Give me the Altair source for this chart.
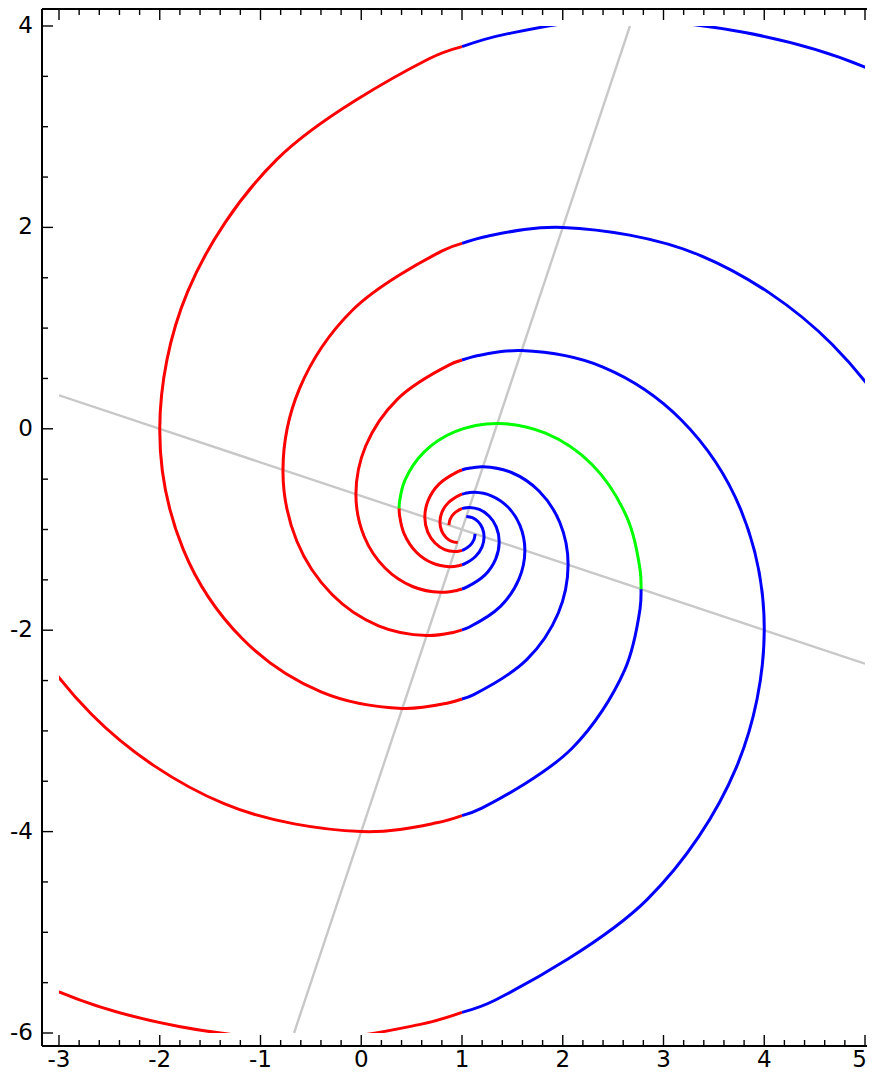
import altair as alt
import pandas as pd

# ---------------- layout (pixels) ----------------
W, H = 806, 1007            # plot area = data rectangle [-3,5] x [-6,4]
GAP_L, GAP_T, GAP_B = 17, 17, 13   # frame distance from data rectangle
RIGHT_EDGE = 2              # drawable strip right of the data rectangle
MAJ, MIN = 11, 6            # inward tick lengths

# ---------------- axis ticks / labels ----------------
X_MAJOR = [-3, -2, -1, 0, 1, 2, 3, 4]
X_LABELS = ["-3", "-2", "-1", "0", "1", "2", "3", "4"]
X_LAST = [5]
X_LAST_LABEL = ["5"]
X_MINOR = [-2.8, -2.6, -2.4, -2.2, -1.8, -1.6, -1.4, -1.2, -0.8, -0.6, -0.4, -0.2,
           0.2, 0.4, 0.6, 0.8, 1.2, 1.4, 1.6, 1.8, 2.2, 2.4, 2.6, 2.8,
           3.2, 3.4, 3.6, 3.8, 4.2, 4.4, 4.6, 4.8]
Y_MAJOR = [-6, -4, -2, 0, 2, 4]
Y_LABELS = ["-6", "-4", "-2", "0", "2", "4"]
Y_MINOR = [-5.5, -5, -4.5, -3.5, -3, -2.5, -1.5, -1, -0.5, 0.5, 1, 1.5, 2.5, 3, 3.5]

# ---------------- gray guide lines ----------------
GRAY1_X = [-0.667, 2.667]
GRAY1_Y = [-6.0, 4.0]
GRAY2_X = [-3.0, 5.0]
GRAY2_Y = [0.333, -2.333]

# ---------------- spiral arms (points read along each arm, outside -> centre) ----------------
ARM0_X = [8.886, 7.204, 4.987, 2.688, 1.425, 1.0, 0.668, -0.837, -1.723, -2.0,
          -1.767, -1.177, -0.399, 0.408, 0.851, 1.0, 1.117, 1.645, 1.956, 2.053,
          1.971, 1.764, 1.491, 1.208, 1.052, 1.0, 0.959, 0.774, 0.665, 0.631,
          0.659, 0.732, 0.828, 0.927, 0.982, 1.0, 1.014, 1.079, 1.118, 1.130]
ARM0_Y = [-0.440, 2.102, 3.597, 4.064, 3.917, 3.795, 3.672, 2.675, 1.362, 0.0,
          -1.197, -2.088, -2.613, -2.777, -2.725, -2.683, -2.639, -2.290, -1.829, -1.351,
          -0.931, -0.618, -0.434, -0.376, -0.395, -0.409, -0.425, -0.547, -0.709, -0.877,
          -1.024, -1.134, -1.199, -1.219, -1.212, -1.207, -1.202, -1.159, -1.102, -1.043]
ARM0_SEGS = [("#0000ff", 0, 5), ("#ff0000", 5, 15), ("#0000ff", 15, 25),
             ("#ff0000", 25, 35), ("#0000ff", 35, 39)]

ARM1_X = [0.440, -2.102, -3.597, -4.064, -3.672, -2.675, -1.362, 0.0, 0.749, 1.0,
          1.197, 2.088, 2.613, 2.767, 2.777, 2.768, 2.639, 2.290, 1.829, 1.351,
          0.931, 0.618, 0.434, 0.380, 0.376, 0.380, 0.425, 0.547, 0.709, 0.877,
          0.969, 1.0, 1.024, 1.134, 1.199, 1.219, 1.202, 1.159, 1.102, 1.043]
ARM1_Y = [6.886, 5.204, 2.987, 0.688, -1.332, -2.837, -3.723, -4.0, -3.913, -3.841,
          -3.767, -3.177, -2.399, -1.789, -1.592, -1.402, -0.884, -0.355, -0.044, 0.053,
          -0.029, -0.236, -0.509, -0.723, -0.792, -0.859, -1.041, -1.226, -1.335, -1.369,
          -1.359, -1.350, -1.341, -1.268, -1.172, -1.073, -0.986, -0.921, -0.882, -0.870]
ARM1_SEGS = [("#ff0000", 0, 9), ("#0000ff", 9, 14), ("#00ff00", 14, 24),
             ("#ff0000", 24, 31), ("#0000ff", 31, 39)]

ARM2_X = [-6.886, -5.204, -2.987, -0.688, 0.575, 1.0, 1.332, 2.837, 3.723, 4.0,
          3.767, 3.177, 2.399, 1.592, 1.149, 1.0, 0.884, 0.355, 0.044, -0.053,
          0.029, 0.236, 0.509, 0.792, 0.948, 1.0, 1.041, 1.226, 1.335, 1.369,
          1.341, 1.268, 1.172, 1.073, 1.018, 1.0, 0.986, 0.921, 0.882, 0.870]
ARM2_Y = [-1.560, -4.102, -5.597, -6.064, -5.917, -5.795, -5.672, -4.675, -3.362, -2.0,
          -0.803, 0.088, 0.613, 0.777, 0.725, 0.683, 0.639, 0.290, -0.171, -0.649,
          -1.069, -1.382, -1.566, -1.624, -1.605, -1.591, -1.575, -1.453, -1.291, -1.123,
          -0.976, -0.866, -0.801, -0.781, -0.788, -0.793, -0.798, -0.841, -0.898, -0.957]
ARM2_SEGS = [("#ff0000", 0, 5), ("#0000ff", 5, 15), ("#ff0000", 15, 25),
             ("#0000ff", 25, 35), ("#ff0000", 35, 39)]

ARM3_X = [1.560, 4.102, 5.597, 6.064, 5.672, 4.675, 3.362, 2.0, 1.252, 1.0,
          0.803, -0.088, -0.613, -0.777, -0.639, -0.290, 0.171, 0.649, 0.912, 1.0,
          1.069, 1.382, 1.566, 1.624, 1.575, 1.453, 1.291, 1.123, 1.031, 1.0,
          0.976, 0.866, 0.801, 0.781, 0.798, 0.841, 0.898, 0.957]
ARM3_Y = [-8.886, -7.204, -4.987, -2.688, -0.668, 0.837, 1.723, 2.0, 1.913, 1.841,
          1.767, 1.177, 0.399, -0.408, -1.117, -1.645, -1.956, -2.053, -2.022, -1.997,
          -1.971, -1.764, -1.491, -1.208, -0.959, -0.774, -0.665, -0.631, -0.641, -0.650,
          -0.659, -0.732, -0.828, -0.927, -1.014, -1.079, -1.118, -1.130]
ARM3_SEGS = [("#0000ff", 0, 9), ("#ff0000", 9, 19), ("#0000ff", 19, 29), ("#ff0000", 29, 37)]

ARMS = [(ARM0_X, ARM0_Y, ARM0_SEGS), (ARM1_X, ARM1_Y, ARM1_SEGS),
        (ARM2_X, ARM2_Y, ARM2_SEGS), (ARM3_X, ARM3_Y, ARM3_SEGS)]

# ---------------- build tables ----------------
rows = []
for a, (xs, ys, segs) in enumerate(ARMS):
    for s, (color, i0, i1) in enumerate(segs):
        for k in range(i0, i1 + 1):
            rows.append({"x": xs[k], "y": ys[k], "color": color,
                         "seg": f"a{a}s{s}", "order": k})
spiral_df = pd.DataFrame(rows)

gray_rows = []
for name, gx, gy in [("g1", GRAY1_X, GRAY1_Y), ("g2", GRAY2_X, GRAY2_Y)]:
    for k, (xv, yv) in enumerate(zip(gx, gy)):
        gray_rows.append({"x": xv, "y": yv, "line": name, "order": k})
gray_df = pd.DataFrame(gray_rows)

FONT = "DejaVu Sans"
FS = 23
LABEL_BASE = H + 34         # alphabetic baseline of the x labels
xscale = alt.Scale(domain=[-3, 5], nice=False, zero=False)
yscale = alt.Scale(domain=[-6, 4], nice=False, zero=False)

gray = alt.Chart(gray_df).mark_line(color="#c8c8c8", strokeWidth=2.4, clip=True).encode(
    x=alt.X("x:Q", scale=xscale, axis=None),
    y=alt.Y("y:Q", scale=yscale, axis=None),
    detail="line:N",
    order="order:Q",
)

spiral = alt.Chart(spiral_df).mark_line(
    interpolate="catmull-rom", strokeWidth=3, clip=True
).encode(
    x=alt.X("x:Q", scale=xscale, axis=None),
    y=alt.Y("y:Q", scale=yscale, axis=None),
    color=alt.Color("color:N", scale=None),
    detail="seg:N",
    order="order:Q",
)

one = pd.DataFrame({"k": [0]})
frame_left = alt.Chart(one).mark_rule(color="black", strokeWidth=2).encode(
    x=alt.value(-GAP_L), y=alt.value(-GAP_T), y2=alt.value(H + GAP_B))
frame_top = alt.Chart(one).mark_rule(color="black", strokeWidth=2).encode(
    y=alt.value(-GAP_T), x=alt.value(-GAP_L), x2=alt.value(W + RIGHT_EDGE))
frame_bottom = alt.Chart(one).mark_rule(color="black", strokeWidth=2).encode(
    y=alt.value(H + GAP_B), x=alt.value(-GAP_L), x2=alt.value(W + RIGHT_EDGE))


def xticks(vals, y0, y1):
    return alt.Chart(pd.DataFrame({"v": vals})).mark_rule(color="black", strokeWidth=1.4).encode(
        x=alt.X("v:Q", scale=xscale, axis=None), y=alt.value(y0), y2=alt.value(y1))


def yticks(vals, x0, x1):
    return alt.Chart(pd.DataFrame({"v": vals})).mark_rule(color="black", strokeWidth=1.4).encode(
        y=alt.Y("v:Q", scale=yscale, axis=None), x=alt.value(x0), x2=alt.value(x1))


ticks = [
    xticks(X_MAJOR + X_LAST, H + GAP_B, H + GAP_B - MAJ),
    xticks(X_MINOR, H + GAP_B, H + GAP_B - MIN),
    xticks(X_MAJOR + X_LAST, -GAP_T, -GAP_T + MAJ),
    xticks(X_MINOR, -GAP_T, -GAP_T + MIN),
    yticks(Y_MAJOR, -GAP_L, -GAP_L + MAJ),
    yticks(Y_MINOR, -GAP_L, -GAP_L + MIN),
]

xlabels = alt.Chart(pd.DataFrame({"v": X_MAJOR, "t": X_LABELS})).mark_text(
    font=FONT, fontSize=FS, color="black", align="center", baseline="alphabetic"
).encode(x=alt.X("v:Q", scale=xscale, axis=None), y=alt.value(LABEL_BASE), text="t:N")

# last label kept fully inside the drawable width
xlabel_last = alt.Chart(pd.DataFrame({"v": X_LAST, "t": X_LAST_LABEL})).mark_text(
    font=FONT, fontSize=FS, color="black", align="right", baseline="alphabetic", dx=RIGHT_EDGE
).encode(x=alt.X("v:Q", scale=xscale, axis=None), y=alt.value(LABEL_BASE), text="t:N")

ylabels = alt.Chart(pd.DataFrame({"v": Y_MAJOR, "t": Y_LABELS})).mark_text(
    font=FONT, fontSize=FS, color="black", align="right", baseline="middle"
).encode(y=alt.Y("v:Q", scale=yscale, axis=None), x=alt.value(-GAP_L - 9), text="t:N")

chart = alt.layer(gray, spiral, frame_left, frame_top, frame_bottom,
                  *ticks, xlabels, xlabel_last, ylabels).properties(
    width=W, height=H,
    autosize=alt.AutoSizeParams(type="none"),
    padding={"left": 51, "top": 18, "right": RIGHT_EDGE, "bottom": 40},
).configure_view(stroke=None)

chart.save("out.html", embed_options={"renderer": "svg", "actions": False})
